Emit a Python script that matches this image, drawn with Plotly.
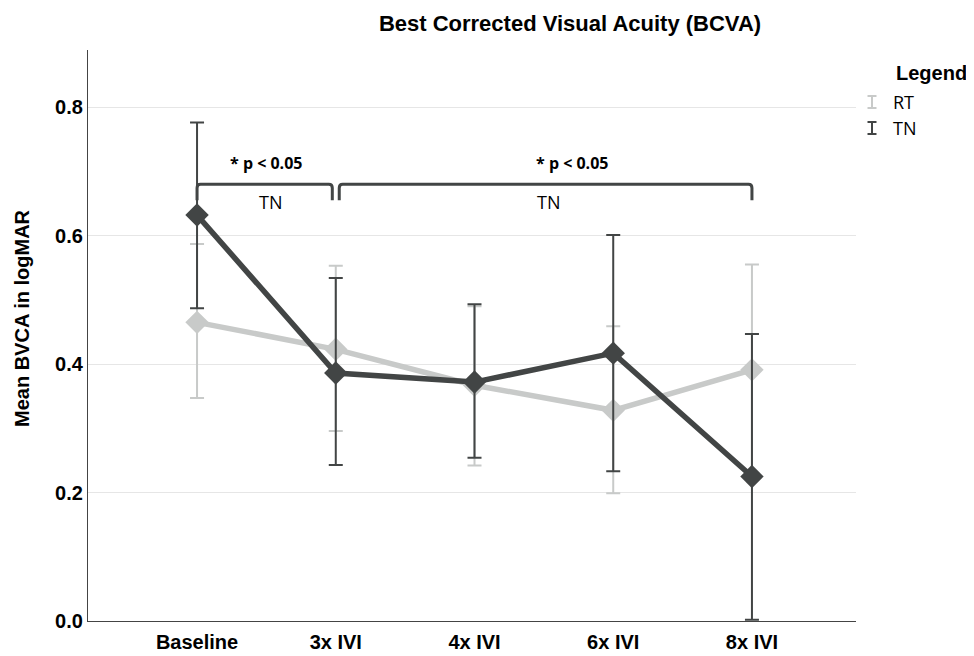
import plotly.graph_objects as go

categories = ["Baseline", "3x IVI", "4x IVI", "6x IVI", "8x IVI"]
rt_mean = [0.465, 0.423, 0.367, 0.328, 0.391]
rt_upper = [0.587, 0.553, 0.490, 0.459, 0.555]
rt_lower = [0.347, 0.296, 0.242, 0.199, 0.229]
tn_mean = [0.632, 0.386, 0.372, 0.417, 0.225]
tn_upper = [0.776, 0.534, 0.493, 0.601, 0.447]
tn_lower = [0.487, 0.243, 0.254, 0.233, 0.002]

series_names = ["RT", "TN"]
bracket_spans = [(0, 1), (1, 4)]
bracket_labels = ["* p < 0.05", "* p < 0.05"]
bracket_group = ["TN", "TN"]
bracket_level = 0.680

RT_COL = "#c8cac9"
TN_COL = "#424545"
xs = list(range(len(categories)))

W, H = 966, 648
L, R, T, B = 80, 118, 42, 35
PW, PH = W - L - R, H - T - B


def px_x(px):
    return (px - L) / PW


def px_y(py):
    return (H - B - py) / PH


fig = go.Figure()


def add_series(mean, upper, lower, color, name):
    fig.add_trace(go.Scatter(
        x=xs, y=mean, mode="lines+markers", name=name, showlegend=False,
        line=dict(color=color, width=5.5),
        marker=dict(symbol="diamond", size=18, color=color),
        error_y=dict(type="data", symmetric=False,
                     array=[u - m for u, m in zip(upper, mean)],
                     arrayminus=[m - l for m, l in zip(mean, lower)],
                     color=color, thickness=2, width=7),
        hoverinfo="skip"))


add_series(rt_mean, rt_upper, rt_lower, RT_COL, series_names[0])
add_series(tn_mean, tn_upper, tn_lower, TN_COL, series_names[1])

# significance brackets
gap = 0.025
drop = 0.025
r = 0.025
label_shift = [0.0, 0.2]
for i, ((a, b), lab, grp) in enumerate(zip(bracket_spans, bracket_labels, bracket_group)):
    x0 = a + (gap if a > 0 else 0)
    x1 = b - (gap if b < len(categories) - 1 else 0)
    yl = bracket_level
    path = (f"M {x0},{yl - drop} L {x0},{yl - 0.006} "
            f"Q {x0},{yl} {x0 + r},{yl} "
            f"L {x1 - r},{yl} Q {x1},{yl} {x1},{yl - 0.006} "
            f"L {x1},{yl - drop}")
    fig.add_shape(type="path", path=path, xref="x", yref="y",
                  line=dict(color=TN_COL, width=3))
    fig.add_annotation(x=(a + b) / 2 + label_shift[i], y=yl + 0.033, text=f"<b>{lab}</b>",
                       showarrow=False, font=dict(family="Open Sans", size=16, color="black"))
    fig.add_annotation(x=(a + b) / 2 + 0.03, y=yl - 0.028, text=grp,
                       showarrow=False, font=dict(family="Open Sans", size=18, color="black"))

# y-axis title
fig.add_annotation(xref="paper", yref="paper", x=px_x(14), y=px_y(310), textangle=-90,
                   xanchor="center", yanchor="middle", showarrow=False,
                   text="<b>Mean BVCA in logMAR</b>",
                   font=dict(family="Liberation Sans", size=20, color="black"))

# manual legend (error-bar style icons)
fig.add_annotation(xref="paper", yref="paper", x=px_x(886), y=px_y(65), xanchor="left",
                   yanchor="middle", text="<b>Legend</b>", showarrow=False,
                   font=dict(family="Liberation Sans", size=20, color="black"))
legend_rows = [94, 120]
for name, col, cy in zip(series_names, [RT_COL, TN_COL], legend_rows):
    cx = 864
    hw, hh = 4.5, 6
    fig.add_shape(type="line", xref="paper", yref="paper",
                  x0=px_x(cx), x1=px_x(cx), y0=px_y(cy - hh), y1=px_y(cy + hh),
                  line=dict(color=col, width=2))
    for dy in (-hh, hh):
        fig.add_shape(type="line", xref="paper", yref="paper",
                      x0=px_x(cx - hw), x1=px_x(cx + hw), y0=px_y(cy + dy), y1=px_y(cy + dy),
                      line=dict(color=col, width=2))
    fig.add_annotation(xref="paper", yref="paper", x=px_x(883), y=px_y(cy), xanchor="left",
                       yanchor="middle", text=name, showarrow=False,
                       font=dict(family="Open Sans", size=18, color="black"))

fig.update_layout(
    width=W, height=H,
    paper_bgcolor="white", plot_bgcolor="white",
    margin=dict(l=L, r=R, t=T, b=B),
    font=dict(family="Liberation Sans", color="black"),
    showlegend=False,
    title=dict(text="<b>Best Corrected Visual Acuity (BCVA)</b>", x=562 / W,
               xanchor="center", y=1 - 15 / H, yanchor="middle",
               font=dict(family="Liberation Sans", size=22)),
)
fig.update_xaxes(range=[-0.786, 4.75], tickmode="array", tickvals=xs,
                 ticktext=[f"<b>{c}</b>" for c in categories],
                 tickfont=dict(size=20), showgrid=False, zeroline=False, automargin=False,
                 ticklabelstandoff=3,
                 showline=True, linecolor="#444", linewidth=1.2, ticks="")
fig.update_yaxes(range=[0, 0.889], tickvals=[0, 0.2, 0.4, 0.6, 0.8],
                 ticktext=["<b>0.0</b>", "<b>0.2</b>", "<b>0.4</b>", "<b>0.6</b>", "<b>0.8</b>"],
                 tickfont=dict(size=20), showgrid=True, gridcolor="#e6e6e6", gridwidth=1,
                 zeroline=False, showline=True, linecolor="#444", linewidth=1.2, ticks="",
                 automargin=False)

fig.write_html("out.html")
